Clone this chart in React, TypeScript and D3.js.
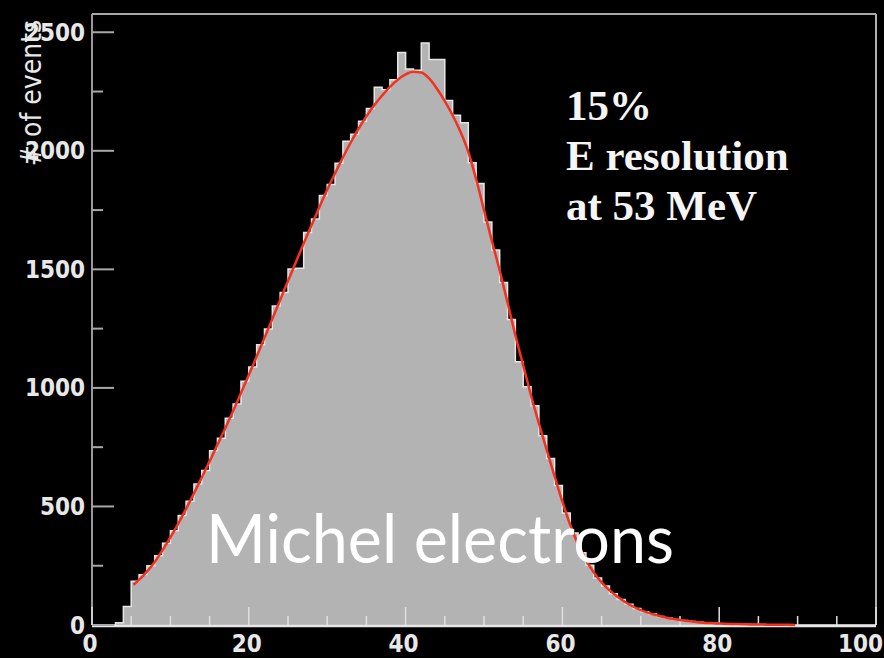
import React from "react";
import * as d3 from "d3";

const W = 884;
const H = 658;

// Axis tick values
const xTicks = [0, 20, 40, 60, 80, 100];
const yTicks = [0, 500, 1000, 1500, 2000, 2500];

// Events per 1 MeV bin, bins 0..99
const counts = [
  0, 0, 0, 10, 78, 185, 212, 250, 292, 345,
  398, 462, 522, 595, 652, 735, 788, 872, 932, 1028,
  1088, 1182, 1248, 1345, 1402, 1502, 1505, 1655, 1712, 1812,
  1858, 1948, 2040, 2070, 2125, 2178, 2268, 2258, 2300, 2415,
  2345, 2340, 2455, 2385, 2385, 2212, 2150, 2118, 1950, 1862,
  1700, 1582, 1445, 1288, 1110, 1005, 925, 798, 702, 588,
  472, 388, 305, 252, 198, 165, 132, 108, 88, 70,
  56, 46, 36, 29, 23, 19, 15, 12, 9, 7,
  5, 4, 4, 3, 2, 2, 1, 1, 1, 0,
  0, 0, 0, 0, 0, 0, 0, 0, 0, 0,
];

// Fitted spectrum (energy in MeV, events)
const fitX = [
  5.3, 6, 7, 8, 9, 10, 11, 12, 13, 14, 15, 16, 17, 18, 19, 20, 21, 22, 23, 24,
  25, 26, 27, 28, 29, 30, 31, 32, 33, 34, 35, 36, 37, 38, 39, 40, 41, 42, 43, 44,
  45, 46, 47, 48, 49, 50, 51, 52, 53, 54, 55, 56, 57, 58, 59, 60, 61, 62, 63, 64,
  65, 66, 67, 68, 69, 70, 71, 72, 73, 74, 75, 76, 77, 78, 79, 80, 82, 84, 86, 88, 89.7,
];
const fitY = [
  170, 190, 225, 266, 316, 370, 428, 490, 555, 622, 690, 760, 830, 903, 978, 1054, 1132, 1211, 1291, 1371,
  1451, 1530, 1609, 1686, 1762, 1836, 1905, 1972, 2035, 2093, 2145, 2192, 2233, 2270, 2300, 2322, 2333, 2330, 2305, 2262,
  2210, 2150, 2080, 1995, 1880, 1750, 1620, 1495, 1360, 1222, 1095, 968, 850, 738, 628, 520, 422, 340, 275, 222,
  180, 147, 120, 97, 78, 63, 51, 41, 33, 26, 21, 17, 13, 10, 8, 6, 4, 2.5, 1.5, 1, 0.5,
];

const annotation = ["15%", "E resolution", "at 53 MeV"];
const title = "Michel electrons";
const yTitle = "# of events";

export default function App() {
  const x = d3.scaleLinear().domain([0, 100]).range([92, 876]);
  const y = d3.scaleLinear().domain([0, 2577]).range([625, 14]);

  const steps: [number, number][] = counts.map((c, i) => [i, c] as [number, number]);
  steps.push([counts.length, counts[counts.length - 1]]);

  const area = d3
    .area<[number, number]>()
    .x((d) => x(d[0]))
    .y0(y(0))
    .y1((d) => y(d[1]))
    .curve(d3.curveStepAfter);
  const outline = d3
    .line<[number, number]>()
    .x((d) => x(d[0]))
    .y((d) => y(d[1]))
    .curve(d3.curveStepAfter);

  const fitPts: [number, number][] = fitX.map((v, i) => [v, fitY[i]] as [number, number]);
  const fitLine = d3
    .line<[number, number]>()
    .x((d) => x(d[0]))
    .y((d) => y(d[1]))
    .curve(d3.curveMonotoneX);

  const xMinor = d3.range(0, 101, 5).filter((v) => v % 20 !== 0);
  const yMinor = d3.range(250, 2577, 500);

  const tickFont = "'Liberation Sans Narrow', 'DejaVu Sans Condensed', 'Arial Narrow', sans-serif";

  return (
    <svg
      width={W}
      height={H}
      style={{ position: "absolute", left: 0, top: 0, display: "block" }}
    >
      <rect x={0} y={0} width={W} height={H} fill="#000" />

      {/* histogram */}
      <path d={area(steps) || ""} fill="#b3b3b3" />
      <path d={outline(steps) || ""} fill="none" stroke="#e6e6e6" strokeWidth={1.5} />

      {/* frame */}
      <line x1={x(0)} x2={x(0)} y1={y(2577)} y2={y(0)} stroke="#9a9a9a" strokeWidth={2} />
      <line x1={x(0)} x2={x(100)} y1={y(2577)} y2={y(2577)} stroke="#a8a8a8" strokeWidth={2} />
      <line x1={x(100)} x2={x(100)} y1={y(2577)} y2={y(0)} stroke="#b0b0b0" strokeWidth={2} />
      <line x1={x(0)} x2={x(100)} y1={y(0) + 1} y2={y(0) + 1} stroke="#e6e6e6" strokeWidth={2.5} />

      {/* y ticks */}
      {yTicks.map((t) => (
        <line key={"ym" + t} x1={x(0)} x2={x(0) + 22} y1={y(t)} y2={y(t)} stroke="#a8a8a8" strokeWidth={2} />
      ))}
      {yMinor.map((t) => (
        <line key={"yn" + t} x1={x(0)} x2={x(0) + 11} y1={y(t)} y2={y(t)} stroke="#a8a8a8" strokeWidth={2} />
      ))}
      {/* x ticks */}
      {xTicks.map((t) => (
        <line key={"xm" + t} x1={x(t)} x2={x(t)} y1={y(0)} y2={y(0) - 18} stroke="#e0e0e0" strokeWidth={1.5} />
      ))}
      {xMinor.map((t) => (
        <line key={"xn" + t} x1={x(t)} x2={x(t)} y1={y(0)} y2={y(0) - 9} stroke="#e0e0e0" strokeWidth={1.5} />
      ))}

      {/* fit curve */}
      <path d={fitLine(fitPts) || ""} fill="none" stroke="#f4301e" strokeWidth={2.5} />

      {/* tick labels */}
      {yTicks.map((t) => (
        <text
          key={"yl" + t}
          x={85}
          y={y(t) + 8.5}
          textAnchor="end"
          fill="#e8e8e8"
          fontFamily={tickFont}
          fontWeight="bold"
          fontSize={24}
        >
          {t}
        </text>
      ))}
      {xTicks.map((t, i) => {
        const last = i === xTicks.length - 1;
        return (
          <text
            key={"xl" + t}
            x={last ? W - 1 : x(t) - 2}
            y={652}
            textAnchor={last ? "end" : "middle"}
            fill="#e8e8e8"
            fontFamily={tickFont}
            fontWeight="bold"
            fontSize={24}
          >
            {t}
          </text>
        );
      })}

      {/* y axis title */}
      <text
        transform="translate(41,93) rotate(-90)"
        textAnchor="middle"
        fill="#e8e8e8"
        fontFamily={tickFont}
        fontSize={28}
      >
        {yTitle}
      </text>

      {/* resolution note */}
      {annotation.map((s, i) => (
        <text
          key={s}
          x={566}
          y={120 + i * 50}
          fill="#f5f5f5"
          fontFamily="'Liberation Serif', 'Times New Roman', serif"
          fontWeight="bold"
          fontSize={43}
        >
          {s}
        </text>
      ))}

      {/* caption */}
      <text
        x={206}
        y={563}
        fill="#ffffff"
        fontFamily="Lato, 'Open Sans', sans-serif"
        fontSize={68}
        textLength={468}
        lengthAdjust="spacingAndGlyphs"
      >
        {title}
      </text>
    </svg>
  );
}
